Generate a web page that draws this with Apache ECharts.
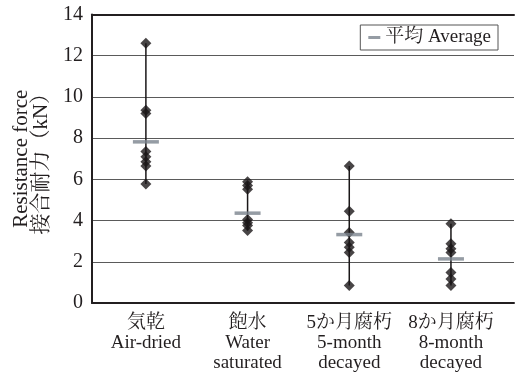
<!DOCTYPE html>
<html><head><meta charset="utf-8">
<script src="https://cdn.jsdelivr.net/npm/echarts@6/dist/echarts.min.js"></script>
<style>html,body{margin:0;padding:0;background:#fff}#c{width:515px;height:374px}</style>
</head><body><div id="c"></div>
<script>
const categories = ['気乾\nAir-dried', '飽水\nWater\nsaturated', '5か月腐朽\n5-month\ndecayed', '8か月腐朽\n8-month\ndecayed'];
const airDried = [12.6, 9.35, 9.2, 7.35, 7.1, 6.85, 6.65, 5.78];
const waterSaturated = [5.88, 5.7, 5.52, 4.05, 3.9, 3.76, 3.52];
const decayed5 = [6.65, 4.45, 3.42, 2.94, 2.7, 2.45, 0.85];
const decayed8 = [3.85, 2.87, 2.63, 2.45, 1.48, 1.16, 0.85];
const averages = [7.82, 4.36, 3.32, 2.14];
const yTicks = [0, 2, 4, 6, 8, 10, 12, 14];

const groups = [airDried, waterSaturated, decayed5, decayed8];
const FONT = "'Liberation Serif', 'Noto Serif CJK JP', 'Noto Sans CJK JP', serif";
const series = [];
groups.forEach((g, i) => {
  series.push({
    type: 'line', silent: true, symbol: 'none',
    data: [[i + 1, Math.min(...g)], [i + 1, Math.max(...g)]],
    lineStyle: {color: '#1a1718', width: 1.5}, z: 2
  });
});
series.push({
  type: 'scatter', symbol: 'diamond', symbolSize: 11,
  itemStyle: {color: '#1a1718'},
  data: groups.flatMap((g, i) => g.map(v => [i + 1, v])), z: 3
});
series.push({
  name: '平均 Average', type: 'scatter', symbol: 'rect', symbolSize: [26, 3.5],
  itemStyle: {color: '#7b838d'},
  data: averages.map((v, i) => [i + 1, v]), z: 4
});

const chart = echarts.init(document.getElementById('c'));
chart.setOption({
  animation: false,
  grid: {left: 92, right: 1, top: 14.5, bottom: 71, containLabel: false, outerBoundsMode: 'none'},
  legend: {
    data: [{name: '平均 Average', icon: 'rect'}],
    right: 17, top: 25, itemWidth: 12, itemHeight: 3, itemGap: 7,
    padding: [3, 7, 3, 8], borderColor: '#555', borderWidth: 1,
    textStyle: {fontFamily: FONT, fontSize: 19, color: '#231f20'}
  },
  xAxis: [{
    type: 'value', min: 0.47, max: 4.62,
    axisLine: {show: true, lineStyle: {color: '#231f20', width: 2}},
    axisTick: {show: false},
    splitLine: {show: false},
    axisLabel: {
      customValues: [1, 2, 3, 4],
      formatter: v => categories[Math.round(v) - 1],
      fontFamily: FONT, fontSize: 19, color: '#231f20', lineHeight: 20, margin: 10
    }
  }, {
    type: 'value', position: 'top', min: 0.47, max: 4.62,
    axisLine: {show: true, lineStyle: {color: '#231f20', width: 2}},
    axisTick: {show: false}, axisLabel: {show: false}, splitLine: {show: false}
  }],
  yAxis: {
    type: 'value', min: 0, max: 14, interval: 2,
    name: 'Resistance force\n接合耐力（kN）', nameLocation: 'middle', nameRotate: 90, nameGap: 37,
    nameTextStyle: {fontFamily: FONT, fontSize: 21, color: '#231f20', lineHeight: 20},
    axisLine: {show: true, lineStyle: {color: '#231f20', width: 2}},
    axisTick: {show: false},
    axisLabel: {fontFamily: FONT, fontSize: 20, color: '#231f20', margin: 9,
      formatter: v => yTicks.includes(v) ? String(v) : ''},
    splitLine: {show: true, lineStyle: {color: '#5a5a5a', width: 1}}
  },
  series: series
});
</script></body></html>
